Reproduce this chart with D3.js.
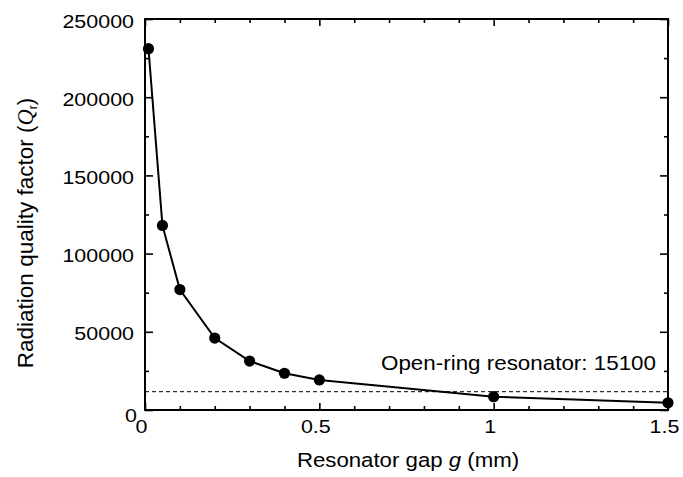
<!DOCTYPE html>
<html>
<head>
<meta charset="utf-8">
<script src="https://cdn.jsdelivr.net/npm/d3@7"></script>
<style>
  html, body { margin: 0; padding: 0; background: #fff; }
  svg { display: block; font-family: "Liberation Sans", Arial, Helvetica, sans-serif; }
</style>
</head>
<body>
<svg id="chart" width="683" height="477"></svg>
<script>
// ---- data ----
const gapMM   = [0.01, 0.05, 0.1, 0.2, 0.3, 0.4, 0.5, 1.0, 1.5];
const qFactor = [231000, 118000, 77000, 46000, 31300, 23500, 19200, 8500, 4600];
const openRingQ = 11700;            // dashed reference line position
const openRingLabel = "Open-ring resonator: 15100";
const xMajorTicks = [0, 0.5, 1, 1.5];
const xMinorTicks = [0.1, 0.2, 0.3, 0.4, 0.6, 0.7, 0.8, 0.9, 1.1, 1.2, 1.3, 1.4];
const yMajorTicks = [0, 50000, 100000, 150000, 200000, 250000];
const yMinorTicks = [25000, 75000, 125000, 175000, 225000];

const W = 683, H = 477;
const margin = {left: 145, right: 15, top: 19, bottom: 67};
const svg = d3.select("#chart");

const x = d3.scaleLinear().domain([0, 1.5]).range([margin.left, W - margin.right]);
const y = d3.scaleLinear().domain([0, 250000]).range([H - margin.bottom, margin.top]);

const X0 = x.range()[0], X1 = x.range()[1], Y0 = y.range()[0], Y1 = y.range()[1];

function styleAxis(g) {
  g.select(".domain").remove();
  g.selectAll(".tick line").attr("stroke", "#000").attr("stroke-width", 1.6);
}

// bottom axis (major with labels, minor without)
const gB = svg.append("g").attr("transform", `translate(0,${Y0})`)
  .call(d3.axisBottom(x).tickValues(xMajorTicks).tickSize(-7).tickFormat(d3.format("~g")));
styleAxis(gB);
gB.selectAll(".tick text")
  .attr("x", null).attr("y", null).attr("dy", null)
  .attr("fill", "#000").attr("font-size", 18.5).attr("text-anchor", "middle")
  .attr("font-family", "'Liberation Sans', Arial, sans-serif")
  .attr("transform", "translate(-4,23) scale(1.16,1)");
const gBm = svg.append("g").attr("transform", `translate(0,${Y0})`)
  .call(d3.axisBottom(x).tickValues(xMinorTicks).tickSize(-4).tickFormat(""));
styleAxis(gBm);

// top axis
const gT = svg.append("g").attr("transform", `translate(0,${Y1})`)
  .call(d3.axisTop(x).tickValues(xMajorTicks).tickSize(-7).tickFormat(""));
styleAxis(gT);
const gTm = svg.append("g").attr("transform", `translate(0,${Y1})`)
  .call(d3.axisTop(x).tickValues(xMinorTicks).tickSize(-4).tickFormat(""));
styleAxis(gTm);

// left axis
const gL = svg.append("g").attr("transform", `translate(${X0},0)`)
  .call(d3.axisLeft(y).tickValues(yMajorTicks).tickSize(-8).tickFormat(d3.format("d")));
styleAxis(gL);
gL.selectAll(".tick text")
  .attr("x", null).attr("y", null).attr("dy", null)
  .attr("fill", "#000").attr("font-size", 18.5).attr("text-anchor", "end")
  .attr("font-family", "'Liberation Sans', Arial, sans-serif")
  .attr("transform", d => d === 0 ? "translate(-8,11) scale(1.16,1)" : "translate(-11,8) scale(1.16,1)");
const gLm = svg.append("g").attr("transform", `translate(${X0},0)`)
  .call(d3.axisLeft(y).tickValues(yMinorTicks).tickSize(-4).tickFormat(""));
styleAxis(gLm);

// right axis
const gR = svg.append("g").attr("transform", `translate(${X1},0)`)
  .call(d3.axisRight(y).tickValues(yMajorTicks).tickSize(-8).tickFormat(""));
styleAxis(gR);
const gRm = svg.append("g").attr("transform", `translate(${X1},0)`)
  .call(d3.axisRight(y).tickValues(yMinorTicks).tickSize(-4).tickFormat(""));
styleAxis(gRm);

// frame
svg.append("rect")
  .attr("x", X0).attr("y", Y1).attr("width", X1 - X0).attr("height", Y0 - Y1)
  .attr("fill", "none").attr("stroke", "#000").attr("stroke-width", 2);

// dashed open-ring reference line
svg.append("line")
  .attr("x1", X0).attr("x2", X1).attr("y1", y(openRingQ)).attr("y2", y(openRingQ))
  .attr("stroke", "#000").attr("stroke-width", 1).attr("stroke-dasharray", "4,3");

svg.append("text")
  .attr("transform", `translate(${X1 - 12},370) scale(1.12,1)`)
  .attr("text-anchor", "end").attr("font-size", 20).attr("fill", "#000")
  .text(openRingLabel);

// data line and markers
const pts = gapMM.map((g, i) => [g, qFactor[i]]);
svg.append("path").datum(pts)
  .attr("fill", "none").attr("stroke", "#000").attr("stroke-width", 2)
  .attr("d", d3.line().x(d => x(d[0])).y(d => y(d[1])));
svg.append("g").selectAll("circle").data(pts).join("circle")
  .attr("cx", d => x(d[0])).attr("cy", d => y(d[1])).attr("r", 5.6).attr("fill", "#000");

// axis titles
const xt = svg.append("text")
  .attr("transform", `translate(${(X0 + X1) / 2 + 1.5},466.5) scale(1.14,1)`)
  .attr("text-anchor", "middle").attr("font-size", 19.5).attr("fill", "#000");
xt.append("tspan").text("Resonator gap ");
xt.append("tspan").attr("font-style", "italic").text("g");
xt.append("tspan").text(" (mm)");

const yt = svg.append("text")
  .attr("transform", "translate(33,233) rotate(-90)")
  .attr("text-anchor", "middle").attr("font-size", 22.5).attr("fill", "#000");
yt.append("tspan").text("Radiation quality factor (");
yt.append("tspan").attr("font-family", "'Liberation Serif', 'Times New Roman', serif").attr("font-style", "italic").text("Q");
yt.append("tspan").attr("font-size", 12).attr("dy", 4).text("r");
yt.append("tspan").attr("dy", -4).text(")");
</script>
</body>
</html>
